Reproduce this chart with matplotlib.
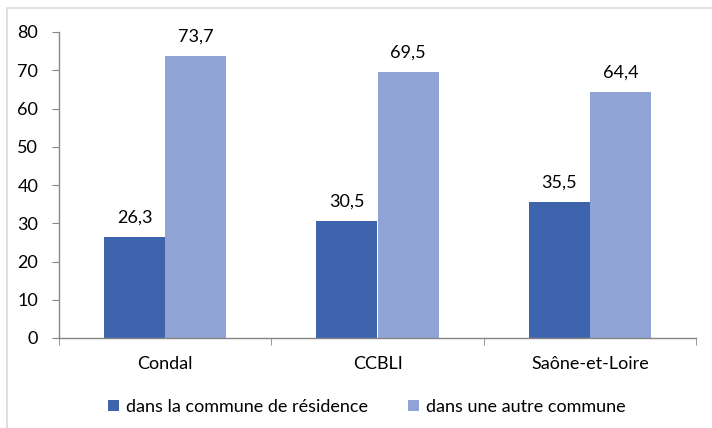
import numpy as np
import matplotlib.pyplot as plt
from matplotlib.patches import Rectangle

plt.rcParams['font.family'] = ['Lato', 'DejaVu Sans']

categories = ['Condal', 'CCBLI', 'Saône-et-Loire']
residence = [26.3, 30.5, 35.5]
autre = [73.7, 69.5, 64.4]
labels = ['dans la commune de résidence', 'dans une autre commune']
c_dark = '#3E64AD'
c_light = '#8FA4D5'
grey = '#868686'
fs = 13

fig = plt.figure(figsize=(7.12, 4.28), dpi=100)
ax = fig.add_axes([59/712, 1 - 338/428, 637/712, 306/428])

# chart border (cut off at right and bottom like the source)
fig.patches.append(Rectangle((7/712, -0.1), 1.2, 1 - 8/428 + 0.1,
                             transform=fig.transFigure, fill=False,
                             edgecolor='#D9D9D9', linewidth=1.2))

x = np.arange(len(categories))
w = 0.288
b1 = ax.bar(x - w/2, residence, w, color=c_dark, label=labels[0])
b2 = ax.bar(x + w/2, autre, w, color=c_light, label=labels[1])

for bars, vals in ((b1, residence), (b2, autre)):
    for r, v in zip(bars, vals):
        ax.text(r.get_x() + r.get_width()/2, v + 3.0, f'{v:.1f}'.replace('.', ','),
                ha='center', va='bottom', fontsize=fs)

ax.set_xlim(-0.5, 2.5)
ax.set_ylim(0, 80)
ax.set_yticks(range(0, 81, 10))
ax.set_xticks(x)
ax.set_xticklabels(categories, fontsize=fs)
ax.set_xticks([-0.5, 0.5, 1.5, 2.5], minor=True)
ax.tick_params(axis='x', which='major', length=0, pad=13)
ax.tick_params(axis='x', which='minor', length=5, color=grey, direction='out')
ax.tick_params(axis='y', length=5, color=grey, labelsize=fs, pad=10)

for s in ('top', 'right'):
    ax.spines[s].set_visible(False)
for s in ('left', 'bottom'):
    ax.spines[s].set_color(grey)
    ax.spines[s].set_linewidth(1)

fig.legend(handles=[b1, b2], labels=labels, loc='center', ncol=2,
           bbox_to_anchor=(367/712, 1 - 407/428), frameon=False, fontsize=fs,
           handlelength=0.6, handleheight=0.6, handletextpad=0.4,
           columnspacing=2.2)

fig.savefig('out.png', dpi=100)
